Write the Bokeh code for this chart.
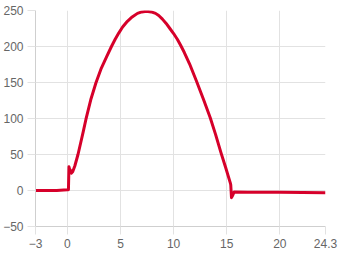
from bokeh.plotting import figure
from bokeh.models import Range1d, FixedTicker
from bokeh.embed import file_html
from bokeh.resources import INLINE

x_vals = [-3, -2, -1, 0, 0.1, 0.15, 0.2, 0.3, 0.37, 0.5, 0.7, 1.0, 1.25, 1.5, 1.75,
          2.2, 2.7, 3.2, 3.7, 4.15, 4.5, 4.85, 5.2, 5.65, 6.1, 6.6, 7.0, 7.45,
          7.9, 8.3, 8.6, 8.95, 9.3, 9.65, 10.0, 10.35, 10.65, 11.0, 11.5, 12.15,
          12.8, 13.45, 13.95, 14.45, 14.9, 15.33, 15.38, 15.45, 15.55, 15.7,
          17, 20, 24.3]
y_vals = [0, 0, 0, 1, 1, 33, 30, 28, 24, 26, 34, 50, 66, 82, 99,
          126, 150, 170, 186, 200, 210, 219, 227, 235, 241, 246, 248, 249,
          248, 246, 243, 238, 232, 225, 218, 210, 202, 192, 176, 152,
          127, 101, 78, 53, 32, 11, 8, -10, -7, -2,
          -2.3, -2.6, -3]

x_ticks = [-3, 0, 5, 10, 15, 20, 24.3]
y_ticks = [-50, 0, 50, 100, 150, 200, 250]

p = figure(width=340, height=255, output_backend="svg", toolbar_location=None,
           x_range=Range1d(-3, 24.3), y_range=Range1d(-50, 250),
           min_border_left=35, min_border_right=15, min_border_top=10,
           min_border_bottom=29)
p.outline_line_color = None
p.background_fill_color = "white"
p.border_fill_color = "white"

p.line(x_vals, y_vals, line_color="#d6002a", line_width=3, line_join="round")

p.xaxis.ticker = FixedTicker(ticks=x_ticks)
p.yaxis.ticker = FixedTicker(ticks=y_ticks)
p.xaxis.major_label_overrides = {24.3: "24.3"}

for ax in (p.xaxis[0], p.yaxis[0]):
    ax.axis_line_color = "#cfcfcf"
    ax.major_tick_line_color = "#e2e2e2"
    ax.major_tick_in = 0
    ax.major_tick_out = 8
    ax.minor_tick_line_color = None
    ax.major_label_text_color = "#666666"
    ax.major_label_text_font = "Liberation Sans"
    ax.major_label_text_font_size = "12px"
    ax.major_label_standoff = 4

p.xgrid.grid_line_color = "#e2e2e2"
p.ygrid.grid_line_color = "#e2e2e2"

open("out.html", "w").write(file_html(p, INLINE))
